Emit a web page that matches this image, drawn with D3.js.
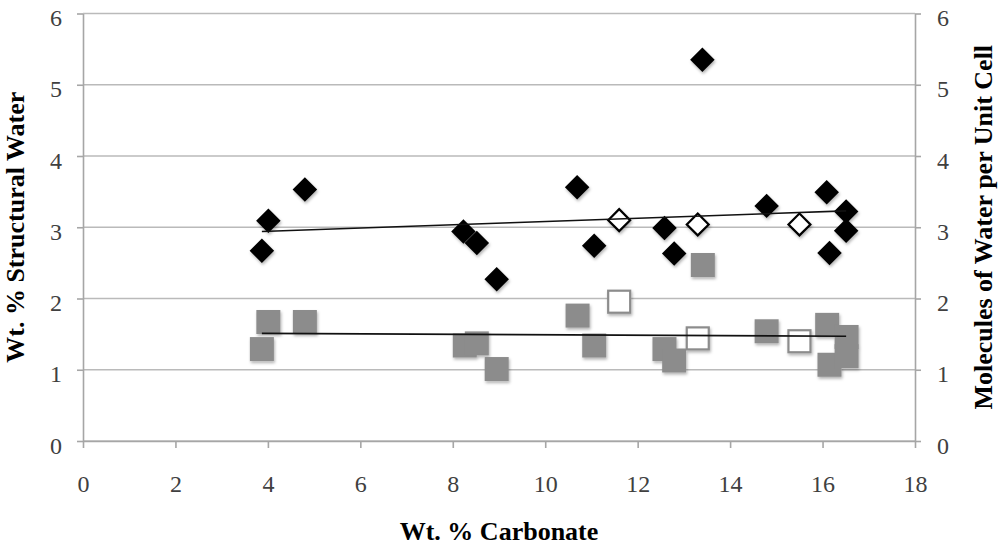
<!DOCTYPE html>
<html>
<head>
<meta charset="utf-8">
<script src="https://cdn.jsdelivr.net/npm/d3@7"></script>
<style>
  body { margin: 0; background: #fff; }
  svg { display: block; font-family: "Liberation Serif", "Times New Roman", serif; }
  .tick text { fill: #404040; font-size: 24px; }
  .axis-title { font-weight: bold; font-size: 26px; fill: #000; }
</style>
</head>
<body>
<div id="chart"></div>
<script>
// Amostras (marcadores cheios)
const carbonate = [3.87, 4.01, 4.80, 8.23, 8.52, 8.95, 10.69, 11.06, 12.58, 12.79, 13.40, 14.79, 16.09, 16.15, 16.51, 16.51];
const waterWt   = [2.67, 3.09, 3.53, 2.94, 2.78, 2.27, 3.56, 2.74, 2.99, 2.63, 5.35, 3.30, 3.49, 2.64, 3.22, 2.95];
const squareX   = [3.87, 4.01, 4.80, 8.26, 8.52, 8.95, 10.70, 11.06, 12.58, 12.79, 13.41, 14.79, 16.10, 16.15, 16.52, 16.52];
const molecules = [1.29, 1.67, 1.67, 1.34, 1.37, 1.01, 1.76, 1.34, 1.29, 1.13, 2.47, 1.54, 1.63, 1.07, 1.46, 1.19];

// Amostras (marcadores vazios)
const openCarbonate = [11.60, 13.30, 15.50];
const openWaterWt   = [3.10, 3.04, 3.04];
const openMolecules = [1.955, 1.44, 1.40];

// Linhas de tendência (extremos)
const trendX     = [3.87, 16.51];
const trendWater = [2.94, 3.23];
const trendMol   = [1.51, 1.47];

const xTicks = [0, 2, 4, 6, 8, 10, 12, 14, 16, 18];
const yTicks = [0, 1, 2, 3, 4, 5, 6];

const W = 1000, H = 545;
const margin = {left: 83, right: 915, top: 13.5, bottom: 441};
const serif = "'Liberation Serif', 'Times New Roman', serif";

const svg = d3.select("#chart").append("svg")
    .attr("width", W)
    .attr("height", H);

const defs = svg.append("defs");
defs.append("filter")
    .attr("id", "shadow")
    .attr("x", "-50%").attr("y", "-50%")
    .attr("width", "200%").attr("height", "200%")
  .append("feDropShadow")
    .attr("dx", 1).attr("dy", 2)
    .attr("stdDeviation", 1.5)
    .attr("flood-color", "#000")
    .attr("flood-opacity", 0.3);

// Escalas
const x = d3.scaleLinear().domain([0, 18]).range([margin.left, margin.right]);
const y = d3.scaleLinear().domain([0, 6]).range([margin.bottom, margin.top]);

// Grade
svg.append("g")
    .selectAll("line")
    .data(yTicks)
    .join("line")
    .attr("x1", margin.left)
    .attr("x2", margin.right)
    .attr("y1", d => y(d))
    .attr("y2", d => y(d))
    .attr("stroke", "#bababa")
    .attr("stroke-width", 1.6);

// Eixos
const axisLeft = svg.append("g")
    .attr("transform", `translate(${margin.left},0)`)
    .call(d3.axisLeft(y).tickValues(yTicks).tickFormat(d3.format("d"))
        .tickSizeInner(6).tickSizeOuter(0).tickPadding(15));

const axisRight = svg.append("g")
    .attr("transform", `translate(${margin.right},0)`)
    .call(d3.axisRight(y).tickValues(yTicks).tickFormat(d3.format("d"))
        .tickSizeInner(6).tickSizeOuter(0).tickPadding(16));

const axisBottom = svg.append("g")
    .attr("transform", `translate(0,${margin.bottom})`)
    .call(d3.axisBottom(x).tickValues(xTicks).tickFormat(d3.format("d"))
        .tickSizeInner(7).tickSizeOuter(0).tickPadding(27));

[axisLeft, axisRight, axisBottom].forEach(g => {
    g.attr("font-size", 24).attr("font-family", serif);
    g.select(".domain").attr("stroke", "#a6a6a6").attr("stroke-width", 1.6);
    g.selectAll(".tick line").attr("stroke", "#a6a6a6").attr("stroke-width", 1.6);
    g.selectAll(".tick text").attr("font-family", serif);
});
axisLeft.selectAll(".tick text").attr("dy", "0.5em");
axisRight.selectAll(".tick text").attr("dy", "0.5em");

// Títulos dos eixos
const midY = (margin.top + margin.bottom) / 2;

svg.append("text")
    .attr("class", "axis-title")
    .attr("x", (margin.left + margin.right) / 2)
    .attr("y", 540)
    .attr("text-anchor", "middle")
    .text("Wt. % Carbonate");

svg.append("text")
    .attr("class", "axis-title")
    .attr("transform", `translate(24,${midY}) rotate(-90)`)
    .attr("text-anchor", "middle")
    .text("Wt. % Structural Water");

svg.append("text")
    .attr("class", "axis-title")
    .attr("transform", `translate(992,${midY}) rotate(-90)`)
    .attr("text-anchor", "middle")
    .text("Molecules of Water per Unit Cell");

// Marcadores
const square = 24;
const marks = svg.append("g").attr("filter", "url(#shadow)");

marks.selectAll(".diamond")
    .data(d3.zip(carbonate, waterWt))
    .join("path")
    .attr("class", "diamond")
    .attr("d", d3.symbol().type(d3.symbolSquare).size(300))
    .attr("transform", d => `translate(${x(d[0])},${y(d[1])}) rotate(45)`)
    .attr("fill", "#000");

marks.selectAll(".open-diamond")
    .data(d3.zip(openCarbonate, openWaterWt))
    .join("path")
    .attr("class", "open-diamond")
    .attr("d", d3.symbol().type(d3.symbolSquare).size(240))
    .attr("transform", d => `translate(${x(d[0])},${y(d[1])}) rotate(45)`)
    .attr("fill", "#fff")
    .attr("stroke", "#000")
    .attr("stroke-width", 2.2);

marks.selectAll(".square")
    .data(d3.zip(squareX, molecules))
    .join("rect")
    .attr("class", "square")
    .attr("x", d => x(d[0]) - square / 2)
    .attr("y", d => y(d[1]) - square / 2)
    .attr("width", square)
    .attr("height", square)
    .attr("fill", "#8c8c8c");

marks.selectAll(".open-square")
    .data(d3.zip(openCarbonate, openMolecules))
    .join("rect")
    .attr("class", "open-square")
    .attr("x", d => x(d[0]) - (square - 2) / 2)
    .attr("y", d => y(d[1]) - (square - 2) / 2)
    .attr("width", square - 2)
    .attr("height", square - 2)
    .attr("fill", "#fff")
    .attr("stroke", "#8c8c8c")
    .attr("stroke-width", 2.2);

// Linhas de tendência
const line = d3.line()
    .x(d => x(d[0]))
    .y(d => y(d[1]));

[trendWater, trendMol].forEach(t => {
    svg.append("path")
        .datum(d3.zip(trendX, t))
        .attr("d", line)
        .attr("fill", "none")
        .attr("stroke", "#111")
        .attr("stroke-width", 1.6);
});
</script>
</body>
</html>
